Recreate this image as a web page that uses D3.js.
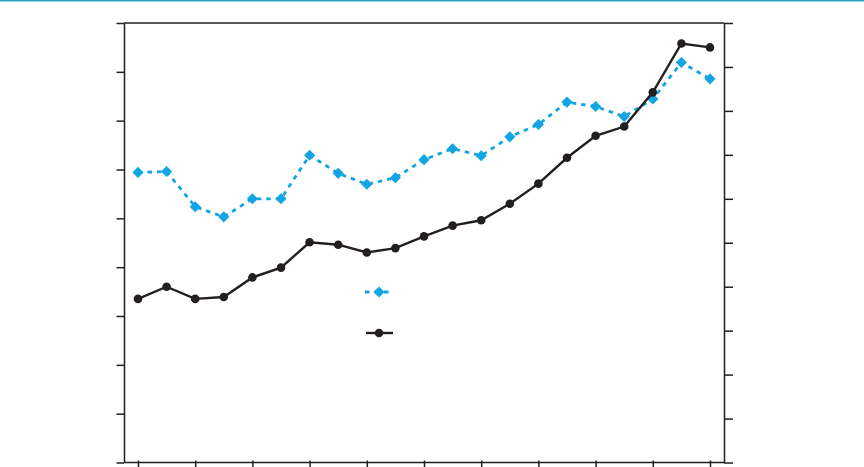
<!DOCTYPE html>
<html>
<head>
<meta charset="utf-8">
<script src="https://cdn.jsdelivr.net/npm/d3@7"></script>
<style>
  html, body { margin: 0; padding: 0; background: #fff; }
  svg { display: block; font-family: "Liberation Sans", Arial, sans-serif; }
</style>
</head>
<body>
<div id="chart"></div>
<script>
const years = d3.range(1990, 2011);
const xTicks = d3.range(1990, 2011, 2);
// black series, left axis (0..90)
const blackValues = [33.5, 36.0, 33.5, 33.9, 37.9, 39.9, 45.1, 44.6, 43.0, 43.9, 46.3,
  48.5, 49.6, 53.0, 57.1, 62.4, 66.9, 68.8, 75.8, 85.8, 85.0];
// blue series, right axis (0..100)
const blueValues = [66.0, 66.2, 58.2, 55.9, 60.0, 60.0, 69.9, 65.8, 63.3, 64.8, 68.9,
  71.4, 69.8, 74.1, 76.9, 82.0, 81.0, 78.7, 82.7, 91.0, 87.3];
const leftTicks = d3.range(0, 91, 10);
const rightTicks = d3.range(0, 101, 10);

const width = 864, height = 467;
const plotLeft = 124, plotRight = 724, plotTop = 23, plotBottom = 462.5;
const ink = '#231f20';
const blue = '#12a5e3';

const svg = d3.select('#chart').append('svg')
  .attr('width', width)
  .attr('height', height)
  .attr('viewBox', `0 0 ${width} ${height}`);

// thin rule across the very top
svg.append('line')
  .attr('x1', 0).attr('x2', width).attr('y1', 0.8).attr('y2', 0.8)
  .attr('stroke', '#2ea3c9').attr('stroke-width', 1.6);

const x = d3.scaleLinear().domain([1990, 2010]).range([138, 710]);
const yLeft = d3.scaleLinear().domain([0, 90]).range([plotBottom, plotTop]);
const yRight = d3.scaleLinear().domain([0, 100]).range([plotBottom, plotTop]);

// frame: top border
svg.append('line')
  .attr('x1', plotLeft).attr('x2', plotRight).attr('y1', plotTop).attr('y2', plotTop)
  .attr('stroke', ink).attr('stroke-width', 1.5);

// axes without labels
const axisStyle = g => {
  g.select('.domain').attr('stroke', ink).attr('stroke-width', 1.5);
  g.selectAll('.tick line').attr('stroke', ink).attr('stroke-width', 1.5);
  g.selectAll('.tick text').remove();
};

svg.append('g')
  .attr('transform', `translate(${plotLeft},0)`)
  .call(d3.axisLeft(yLeft).tickValues(leftTicks).tickSize(7.5).tickSizeOuter(0))
  .call(axisStyle);

svg.append('g')
  .attr('transform', `translate(${plotRight},0)`)
  .call(d3.axisRight(yRight).tickValues(rightTicks).tickSize(9).tickSizeOuter(0))
  .call(axisStyle);

const xAxis = svg.append('g')
  .attr('transform', `translate(0,${plotBottom})`)
  .call(d3.axisBottom(x).tickValues(xTicks).tickSize(7).tickSizeOuter(0))
  .call(axisStyle);
xAxis.select('.domain').attr('d', `M${plotLeft},0H${plotRight}`);
xAxis.selectAll('.tick line').attr('y1', -2);

// blue dashed series with diamonds
const blueLine = d3.line().x((d, i) => x(years[i])).y(d => yRight(d));
svg.append('path')
  .datum(blueValues)
  .attr('d', blueLine)
  .attr('fill', 'none')
  .attr('stroke', blue)
  .attr('stroke-width', 2.8)
  .attr('stroke-dasharray', '4.5,5');

const diamond = d3.symbol().type(d3.symbolSquare).size(62);
svg.append('g').selectAll('path')
  .data(blueValues)
  .enter().append('path')
  .attr('d', diamond)
  .attr('transform', (d, i) => `translate(${x(years[i])},${yRight(d)}) rotate(45)`)
  .attr('fill', blue);

// black solid series with dots
const blackLine = d3.line().x((d, i) => x(years[i])).y(d => yLeft(d));
svg.append('path')
  .datum(blackValues)
  .attr('d', blackLine)
  .attr('fill', 'none')
  .attr('stroke', ink)
  .attr('stroke-width', 2.4);

svg.append('g').selectAll('circle')
  .data(blackValues)
  .enter().append('circle')
  .attr('cx', (d, i) => x(years[i]))
  .attr('cy', d => yLeft(d))
  .attr('r', 4.3)
  .attr('fill', ink);

// legend (labels not legible in the source)
const legend = svg.append('g').attr('transform', 'translate(365,0)');
legend.append('line')
  .attr('x1', 0).attr('x2', 26).attr('y1', 292).attr('y2', 292)
  .attr('stroke', blue).attr('stroke-width', 2.8).attr('stroke-dasharray', '4.5,5');
legend.append('path')
  .attr('d', diamond)
  .attr('transform', 'translate(14,292) rotate(45)')
  .attr('fill', blue);
legend.append('line')
  .attr('x1', 1).attr('x2', 28).attr('y1', 333).attr('y2', 333)
  .attr('stroke', ink).attr('stroke-width', 2.4);
legend.append('circle')
  .attr('cx', 14).attr('cy', 333).attr('r', 4.3).attr('fill', ink);
</script>
</body>
</html>
